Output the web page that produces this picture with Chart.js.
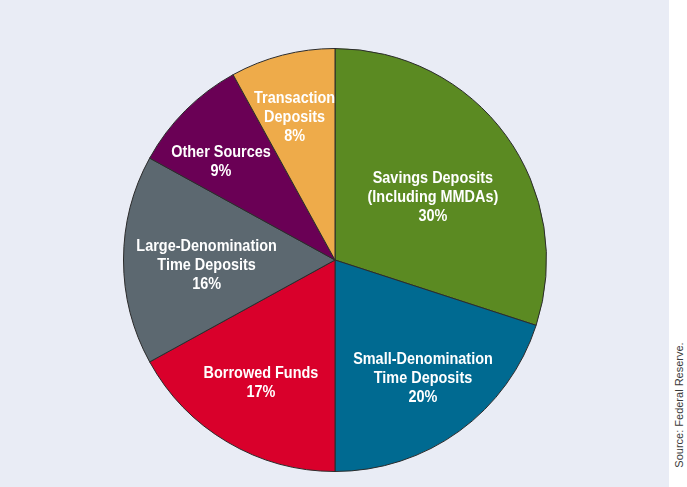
<!DOCTYPE html>
<html>
<head>
<meta charset="utf-8">
<script src="https://cdn.jsdelivr.net/npm/chart.js@4"></script>
<style>
  html, body { margin: 0; padding: 0; background: #ffffff; }
  #wrap { position: absolute; left: 0; top: 0; width: 669px; height: 487px; background: #e9ecf5; }
  #source {
    position: absolute; left: 679px; top: 405px;
    transform: translate(-50%, -50%) rotate(-90deg);
    white-space: nowrap; font-family: 'Liberation Sans', Arial, sans-serif;
    font-size: 11px; color: #3a3a3a;
  }
</style>
</head>
<body>
<div id="wrap"><canvas id="mycanvas"></canvas></div>
<div id="source">Source: Federal Reserve.</div>
<script>
// slices, clockwise from 12 o'clock
var categories = ['Savings Deposits (Including MMDAs)', 'Small-Denomination Time Deposits',
  'Borrowed Funds', 'Large-Denomination Time Deposits', 'Other Sources', 'Transaction Deposits'];
var shares = [30, 20, 17, 16, 9, 8];
var labelLines = [
  ['Savings Deposits', '(Including MMDAs)'],
  ['Small-Denomination', 'Time Deposits'],
  ['Borrowed Funds'],
  ['Large-Denomination', 'Time Deposits'],
  ['Other Sources'],
  ['Transaction', 'Deposits']
];
var colors = ['#5b8a22', '#006a91', '#d9002b', '#5c6870', '#6a0055', '#eeab4a'];

// where each label sits, as a fraction of the radius from the centre
var labelPos = [[0.463, -0.298], [0.416, 0.558], [-0.350, 0.582],
  [-0.607, 0.026], [-0.539, -0.463], [-0.191, -0.674]];

var sliceLabels = {
  id: 'sliceLabels',
  afterDatasetsDraw: function(chart) {
    var ctx = chart.ctx;
    var meta = chart.getDatasetMeta(0);
    var squeeze = 0.85; // condensed look
    ctx.save();
    ctx.fillStyle = '#ffffff';
    ctx.font = 'bold 17px "Liberation Sans", Arial, sans-serif';
    ctx.textAlign = 'center';
    ctx.textBaseline = 'middle';
    meta.data.forEach(function(arc, i) {
      var r = arc.outerRadius;
      var lines = labelLines[i].concat([shares[i] + '%']);
      var cx = arc.x + labelPos[i][0] * r;
      var cy = arc.y + labelPos[i][1] * r;
      var lh = 19;
      var y0 = cy - (lines.length - 1) * lh / 2;
      lines.forEach(function(t, k) {
        ctx.save();
        ctx.translate(cx, y0 + k * lh);
        ctx.scale(squeeze, 1);
        ctx.fillText(t, 0, 0);
        ctx.restore();
      });
    });
    ctx.restore();
  }
};

var ctx = document.getElementById('mycanvas');
var pie = new Chart(ctx, {
  type: 'pie',
  data: {
    labels: categories,
    datasets: [{
      data: shares,
      backgroundColor: colors,
      borderColor: '#2b2b2b',
      borderWidth: 1
    }]
  },
  options: {
    responsive: true,
    maintainAspectRatio: false,
    animation: false,
    layout: { padding: { top: 48, bottom: 15, left: 100, right: 99 } },
    plugins: {
      legend: { display: false },
      tooltip: { enabled: false }
    }
  },
  plugins: [sliceLabels]
});
</script>
</body>
</html>
